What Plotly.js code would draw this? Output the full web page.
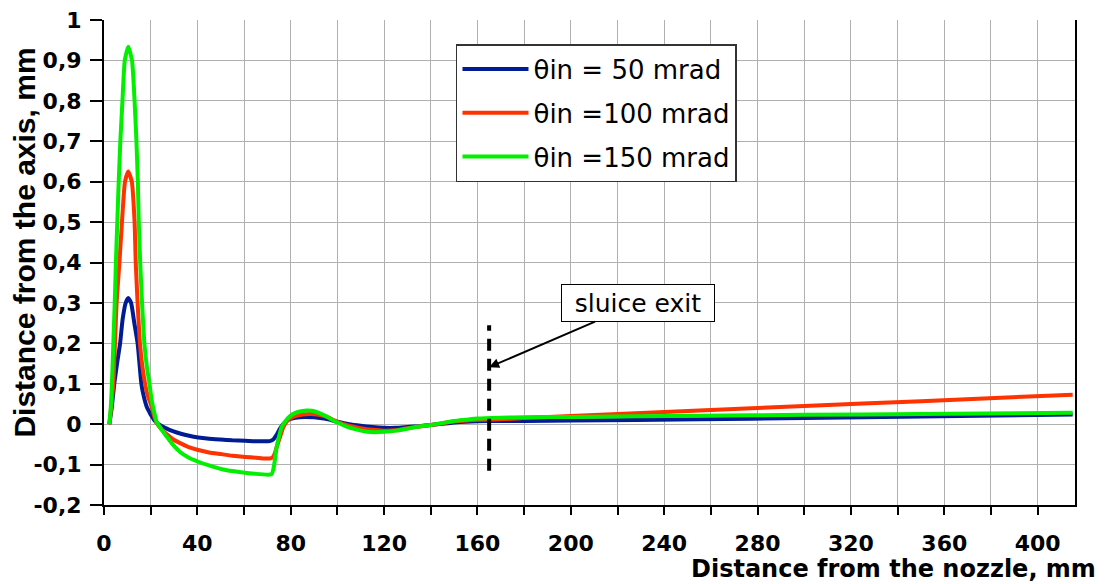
<!DOCTYPE html>
<html>
<head>
<meta charset="utf-8">
<script src="https://cdn.plot.ly/plotly-3.0.1.min.js"></script>
<style>
  html, body { margin: 0; padding: 0; background: #ffffff; }
  #chart { width: 1106px; height: 584px; }
</style>
</head>
<body>
<div id="chart"></div>
<script>
// ---- data ----
const seriesNames = ['\u03B8in = 50 mrad', '\u03B8in =100 mrad', '\u03B8in =150 mrad'];

const x50 = [2.3, 3.3, 4.4, 5.6, 6.9, 8.0, 9.3, 10.4, 11.6, 13.0, 14.4, 15.2, 16.0, 17.0, 18.3, 19.7, 20.4, 21.5, 22.6, 24.5, 26.9, 29.5, 32.6, 36, 40.4, 45, 50, 55, 60.4, 65, 69, 71, 72.5, 74, 75.4, 76.8, 78.3, 80, 82, 86, 90, 95, 100, 105, 110, 115, 120, 125, 130, 135, 140, 145, 150, 155, 160, 170, 180, 200, 255, 300, 350, 415];
const y50 = [0, 0.04, 0.1, 0.15, 0.2, 0.26, 0.3, 0.312, 0.3, 0.25, 0.2, 0.15, 0.1, 0.07, 0.043, 0.027, 0.02, 0.01, 0.003, -0.004, -0.011, -0.017, -0.023, -0.028, -0.033, -0.036, -0.038, -0.040, -0.041, -0.042, -0.042, -0.042, -0.038, -0.026, -0.011, 0.0, 0.008, 0.013, 0.016, 0.018, 0.017, 0.013, 0.006, 0.0, -0.004, -0.007, -0.009, -0.009, -0.007, -0.005, -0.002, 0.001, 0.004, 0.006, 0.007, 0.008, 0.008, 0.009, 0.012, 0.015, 0.019, 0.024];

const x100 = [2.3, 3.2, 4.0, 4.7, 5.4, 6.6, 7.7, 9.0, 10.4, 11.9, 13.1, 13.6, 14.4, 15.4, 16.5, 17.6, 18.5, 20.4, 21.5, 22.6, 24.5, 26.9, 29.7, 32.6, 36, 40.4, 45, 50, 55, 60.4, 65, 69, 71, 72.3, 73.2, 74, 75.5, 76.9, 78.5, 81, 85, 89, 92, 95, 100, 105, 110, 115, 120, 125, 130, 135, 140, 145, 150, 155, 160, 170, 180, 200, 255, 300, 350, 415];
const y100 = [0, 0.05, 0.1, 0.2, 0.3, 0.4, 0.5, 0.6, 0.625, 0.6, 0.5, 0.4, 0.3, 0.2, 0.14, 0.1, 0.075, 0.043, 0.02, 0.003, -0.012, -0.025, -0.038, -0.047, -0.056, -0.064, -0.07, -0.074, -0.078, -0.081, -0.083, -0.085, -0.085, -0.082, -0.072, -0.056, -0.03, -0.007, 0.008, 0.018, 0.024, 0.025, 0.023, 0.019, 0.006, -0.004, -0.01, -0.014, -0.016, -0.015, -0.01, -0.006, -0.002, 0.002, 0.007, 0.009, 0.011, 0.012, 0.015, 0.020, 0.034, 0.045, 0.057, 0.073];

const x150 = [2.3, 2.9, 3.4, 4.0, 4.6, 5.1, 5.7, 6.3, 7.0, 7.9, 8.9, 10.4, 12.0, 13.1, 13.9, 14.5, 14.9, 15.5, 16.3, 17.3, 18.4, 19.5, 20.4, 21.5, 22.6, 24.5, 26.9, 29.7, 32.6, 36, 40.4, 45, 51, 55, 60.4, 65, 70.4, 71.8, 72.6, 73.3, 74, 75, 76.1, 77.8, 79.7, 82, 84.5, 87, 89, 92, 95, 100, 104, 108, 112, 116, 120, 125, 130, 135, 140, 145, 150, 155, 160, 170, 180, 200, 255, 300, 350, 415];
const y150 = [0, 0.04, 0.1, 0.2, 0.3, 0.4, 0.5, 0.6, 0.7, 0.8, 0.9, 0.934, 0.9, 0.8, 0.7, 0.6, 0.5, 0.4, 0.3, 0.2, 0.14, 0.1, 0.06, 0.03, 0.005, -0.012, -0.031, -0.052, -0.069, -0.082, -0.093, -0.102, -0.112, -0.116, -0.12, -0.123, -0.125, -0.124, -0.11, -0.085, -0.056, -0.03, -0.007, 0.008, 0.02, 0.028, 0.032, 0.034, 0.033, 0.028, 0.02, 0.004, -0.006, -0.013, -0.018, -0.02, -0.019, -0.016, -0.011, -0.006, -0.002, 0.003, 0.008, 0.011, 0.014, 0.016, 0.017, 0.018, 0.021, 0.023, 0.025, 0.028];

const yTickVals = [-0.2, -0.1, 0, 0.1, 0.2, 0.3, 0.4, 0.5, 0.6, 0.7, 0.8, 0.9, 1];
const yTickText = ['-0,2', '-0,1', '0', '0,1', '0,2', '0,3', '0,4', '0,5', '0,6', '0,7', '0,8', '0,9', '1'];

const sluiceX = 165;
const sluiceY0 = -0.115;
const sluiceY1 = 0.245;
const sluiceArrowY = 0.141;

// ---- styles ----
const colors = ['#001c94', '#ff3300', '#00f000'];
const gridColor = '#b0b0b0';
function tickFont() { return { family: 'DejaVu Sans', size: 22, color: '#000000', weight: 700 }; }

const xs = [x50, x100, x150];
const ys = [y50, y100, y150];

const traces = seriesNames.map((n, i) => ({
  type: 'scatter',
  mode: 'lines',
  name: n,
  x: xs[i],
  y: ys[i],
  legendgroup: 'g' + i,
  line: { color: colors[i], width: 4, shape: 'spline', smoothing: 0.5 },
  hoverinfo: 'x+y+name'
}));

const layout = {
  width: 1106,
  height: 584,
  margin: { l: 104, r: 31, t: 20, b: 79 },
  paper_bgcolor: '#ffffff',
  plot_bgcolor: '#ffffff',
  font: { family: 'DejaVu Sans', color: '#000000' },
  showlegend: true,
  legend: {
    x: 0.3625, y: 0.9505, xanchor: 'left', yanchor: 'top',
    bgcolor: '#ffffff', bordercolor: '#333333', borderwidth: 1.5,
    font: { family: 'DejaVu Sans', size: 26, color: '#000000' },
    tracegroupgap: 7,
    traceorder: 'grouped',
    itemwidth: 66
  },
  xaxis: {
    range: [0, 416],
    tick0: 0, dtick: 40,
    showgrid: true, gridcolor: gridColor, gridwidth: 1,
    zeroline: false,
    showline: true, linecolor: '#000000', linewidth: 2,
    ticks: 'outside', ticklen: 8, tickwidth: 2, tickcolor: '#000000',
    ticklabelstandoff: 10,
    tickfont: tickFont(),
    minor: { dtick: 20, showgrid: true, gridcolor: gridColor, gridwidth: 1, ticks: 'outside', ticklen: 8, tickwidth: 2, tickcolor: '#000000' }
  },
  yaxis: {
    range: [-0.2, 1],
    tickmode: 'array', tickvals: yTickVals, ticktext: yTickText,
    showgrid: true, gridcolor: gridColor, gridwidth: 1,
    zeroline: false,
    showline: true, linecolor: '#000000', linewidth: 2, mirror: true,
    ticks: 'outside', ticklen: 12, tickwidth: 2, tickcolor: '#000000',
    ticklabelstandoff: 4,
    tickfont: tickFont()
  },
  shapes: [
    { type: 'line', xref: 'x', yref: 'y', x0: sluiceX, x1: sluiceX, y0: sluiceY0, y1: sluiceY1,
      line: { color: '#000000', width: 4, dash: '12px,8px' } }
  ],
  annotations: [
    { xref: 'x', yref: 'y', x: sluiceX, y: sluiceArrowY, ax: 149, ay: -64,
      text: 'sluice exit', showarrow: true, arrowhead: 2, arrowsize: 1, arrowwidth: 2, arrowcolor: '#000000',
      standoff: 0,
      font: { family: 'DejaVu Sans', size: 25, color: '#000000' },
      bgcolor: '#ffffff', bordercolor: '#000000', borderwidth: 1, borderpad: 4,
      width: 144, height: 28 },
    { xref: 'paper', yref: 'paper', x: 1.0237, y: -0.131, xanchor: 'right', yanchor: 'middle',
      text: 'Distance from the nozzle, mm', showarrow: false,
      font: { family: 'DejaVu Sans', size: 24, color: '#000000', weight: 700 } },
    { xref: 'paper', yref: 'paper', x: -0.0814, y: 0.541, xanchor: 'center', yanchor: 'middle',
      text: 'Distance from the axis, mm', showarrow: false, textangle: -90,
      font: { family: 'Liberation Sans', size: 30, color: '#000000', weight: 700 } }
  ]
};

Plotly.newPlot('chart', traces, layout, { displayModeBar: false, staticPlot: true });
</script>
</body>
</html>
